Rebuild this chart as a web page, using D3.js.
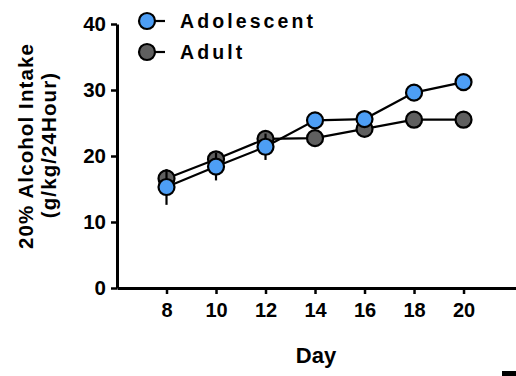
<!DOCTYPE html>
<html>
<head>
<meta charset="utf-8">
<script src="https://cdn.jsdelivr.net/npm/d3@7"></script>
<style>
  body { margin: 0; background: #fff; }
  text { font-family: "Liberation Sans", Arial, sans-serif; font-weight: bold; }
</style>
</head>
<body>
<div id="container"></div>
<script>
// DATA

const days = [8, 10, 12, 14, 16, 18, 20]
const adolescent = [15.3, 18.4, 21.4, 25.4, 25.6, 29.6, 31.2]
const adolescentErr = [2.7, 2.1, 2.0, 1.2, 1.0, 0.9, 0.8]
const adult = [16.6, 19.5, 22.6, 22.7, 24.1, 25.5, 25.5]
const adultErr = [1.3, 1.1, 1.0, 0.8, 0.8, 0.7, 0.7]
const yTicks = [0, 10, 20, 30, 40]

const series = [
  {name: "Adult", values: adult, err: adultErr, fill: "#5f5f5f"},
  {name: "Adolescent", values: adolescent, err: adolescentErr, fill: "#4d9ef5"}
]

// VARIABLES

const width = 516
const height = 376

// SCALES

const x = d3.scaleLinear()
  .domain([6, 22.12])
  .range([117, 516])

const y = d3.scaleLinear()
  .domain([0, 40])
  .range([288, 24])

// SVG

const svg = d3.select("#container")
  .append("svg")
  .attr("width", width)
  .attr("height", height)

// AXES

const yAxis = svg.append("g")
  .attr("transform", "translate(117,0)")
  .call(d3.axisLeft(y).tickValues(yTicks).tickSize(6).tickPadding(5).tickSizeOuter(0))
yAxis.select(".domain").attr("stroke-width", 3)
yAxis.selectAll(".tick line").attr("stroke-width", 2.5)
yAxis.selectAll("text").attr("font-size", 20.5).attr("fill", "#000")

const xAxis = svg.append("g")
  .attr("transform", "translate(0,288)")
  .call(d3.axisBottom(x).tickValues(days).tickSize(6).tickPadding(9).tickSizeOuter(0))
xAxis.select(".domain").attr("stroke-width", 3)
xAxis.selectAll(".tick line").attr("stroke-width", 2.5)
xAxis.selectAll("text").attr("font-size", 20).attr("fill", "#000")

// AXIS TITLES

svg.append("text")
  .attr("x", 316)
  .attr("y", 363)
  .attr("text-anchor", "middle")
  .attr("font-size", 22)
  .text("Day")

svg.append("text")
  .attr("transform", "translate(33,146) rotate(-90)")
  .attr("text-anchor", "middle")
  .attr("font-size", 20.5)
  .attr("letter-spacing", 1.1)
  .text("20% Alcohol Intake")

svg.append("text")
  .attr("transform", "translate(56,145) rotate(-90)")
  .attr("text-anchor", "middle")
  .attr("font-size", 20.5)
  .attr("letter-spacing", 1.1)
  .text("(g/kg/24Hour)")

// SERIES

const line = d3.line()
  .x((d, i) => x(days[i]))
  .y(d => y(d))

series.forEach(s => {
  svg.append("path")
    .datum(s.values)
    .attr("d", line)
    .attr("fill", "none")
    .attr("stroke", "#000")
    .attr("stroke-width", 2.2)
})

series.forEach(s => {
  const g = svg.append("g")
  g.selectAll("line")
    .data(s.values)
    .join("line")
    .attr("x1", (d, i) => x(days[i]))
    .attr("x2", (d, i) => x(days[i]))
    .attr("y1", (d, i) => y(d - s.err[i]))
    .attr("y2", (d, i) => y(d + s.err[i]))
    .attr("stroke", "#000")
    .attr("stroke-width", 2.2)
  g.selectAll("circle")
    .data(s.values)
    .join("circle")
    .attr("cx", (d, i) => x(days[i]))
    .attr("cy", d => y(d))
    .attr("r", 8)
    .attr("fill", s.fill)
    .attr("stroke", "#000")
    .attr("stroke-width", 2.2)
})

// LEGEND

const legendItems = [series[1], series[0]]
const legend = svg.selectAll(".legend")
  .data(legendItems)
  .join("g")
  .attr("class", "legend")
  .attr("transform", (d, i) => `translate(147,${21 + i * 31})`)

legend.append("line")
  .attr("x1", 0).attr("x2", 18)
  .attr("stroke", "#000")
  .attr("stroke-width", 2.2)
legend.append("circle")
  .attr("r", 8)
  .attr("fill", d => d.fill)
  .attr("stroke", "#000")
  .attr("stroke-width", 2.2)
legend.append("text")
  .attr("x", 33)
  .attr("y", 7)
  .attr("font-size", 19.5)
  .attr("letter-spacing", 3.1)
  .text(d => d.name)

// corner mark at bottom right
svg.append("rect")
  .attr("x", 502).attr("y", 371)
  .attr("width", 14).attr("height", 5)
  .attr("fill", "#000")
</script>
</body>
</html>
